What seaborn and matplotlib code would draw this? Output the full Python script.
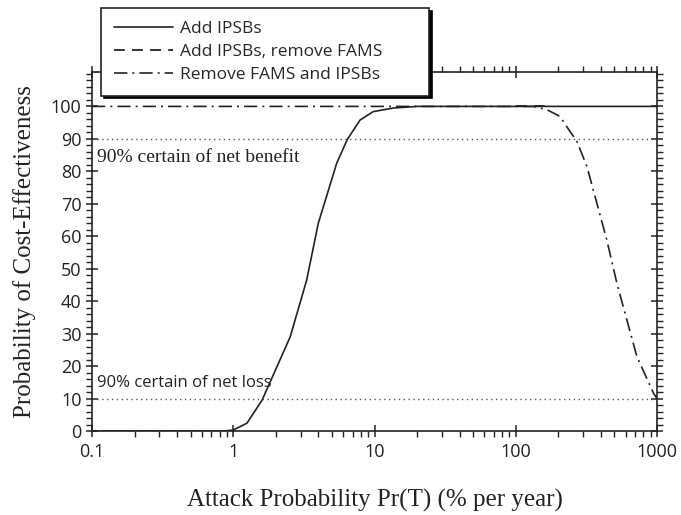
import matplotlib
matplotlib.use("Agg")
import matplotlib.pyplot as plt
import matplotlib.ticker as mticker
import numpy as np
import pandas as pd
import seaborn as sns

# ---- data ----
add_x = [0.1, 0.5, 0.85, 1.0, 1.25, 1.6, 2.53, 3.31, 4.0, 5.4, 6.4, 7.9, 9.8, 13.6, 20, 100, 1000]
add_y = [0, 0, 0, 0.3, 2.4, 9.5, 29, 46.5, 64, 82.5, 89.7, 95.8, 98.4, 99.5, 100, 100, 100]

addrm_x = [100, 170]
addrm_y = [100, 100]

rm_x = [0.1, 100, 133, 166, 206, 236, 271, 319, 375, 441, 520, 612, 721, 946, 1000]
rm_y = [100, 100, 100, 99, 96.9, 93, 89.2, 81.5, 70.2, 58.9, 45.5, 34.2, 22.9, 11.6, 10]

labels = ["Add IPSBs", "Add IPSBs, remove FAMS", "Remove FAMS and IPSBs"]
benefit_level = 90
loss_level = 10
ytick_vals = list(range(0, 101, 10))
xtick_vals = [0.1, 1, 10, 100, 1000]
xtick_labels = ["0.1", "1", "10", "100", "1000"]

sns.set_theme(style="white")
plt.rcParams["font.family"] = ["Open Sans", "DejaVu Sans"]

W, H = 681, 515
fig = plt.figure(figsize=(W / 100, H / 100), dpi=100)
ax = fig.add_axes([92 / W, (H - 431) / H, (657 - 92) / W, (431 - 72) / H])

ink = "#222222"
sns.lineplot(x=addrm_x, y=addrm_y, ax=ax, color=ink, lw=1.3, sort=False,
             estimator=None, label=labels[1])
sns.lineplot(x=add_x, y=add_y, ax=ax, color=ink, lw=1.2, sort=False,
             estimator=None, label=labels[0])
sns.lineplot(x=rm_x, y=rm_y, ax=ax, color=ink, lw=1.2, sort=False,
             estimator=None, label=labels[2])
lines = ax.get_lines()
lines[0].set_dashes((6, 4))
lines[2].set_dashes((8, 3, 1.2, 3))

ax.axhline(benefit_level, color="#555555", lw=1.0, ls=(0, (1, 2.5)))
ax.axhline(loss_level, color="#555555", lw=1.0, ls=(0, (1, 2.5)))

ax.set_xscale("log")
ax.set_xlim(0.1, 1000)
ax.set_ylim(0, 110.6)
ax.set_xticks(xtick_vals)
ax.set_xticklabels(xtick_labels)
ax.xaxis.set_minor_locator(mticker.LogLocator(base=10, subs=np.arange(2, 10)))
ax.xaxis.set_minor_formatter(mticker.NullFormatter())
ax.set_yticks(ytick_vals)
ax.yaxis.set_minor_locator(mticker.MultipleLocator(2))

for s in ax.spines.values():
    s.set_color(ink)
    s.set_linewidth(1.2)

ax.tick_params(which="major", direction="inout", length=9, width=1.1, color=ink,
               labelsize=13, labelcolor="#222222",
               top=True, right=True, bottom=True, left=True)
ax.tick_params(which="minor", direction="out", length=4, width=1.0, color=ink,
               top=True, right=True, bottom=True, left=True)
ax.tick_params(axis="x", which="major", pad=4)
ax.tick_params(axis="y", which="major", pad=3)

ax.text(0.108, 84.4, "90% certain of net benefit", family=["Liberation Serif"],
        fontsize=14, color=ink, va="center", ha="left")
ax.text(0.108, 14.8, "90% certain of net loss", family=["Open Sans"],
        fontsize=12, color=ink, va="center", ha="left")

ax.set_xlabel("Attack Probability Pr(T) (% per year)", family=["Liberation Serif"],
              fontsize=18, color=ink, labelpad=20)
ax.set_ylabel("Probability of Cost-Effectiveness", family=["Liberation Serif"],
              fontsize=18, color=ink, labelpad=11)

h, lab = ax.get_legend_handles_labels()
order = [lab.index(t) for t in labels]
if ax.get_legend() is not None:
    ax.get_legend().remove()
leg = fig.legend([h[i] for i in order], [lab[i] for i in order],
                 loc="upper left",
                 bbox_to_anchor=(101 / W, 1 - 93 / H, (429 - 101) / W, (93 - 8) / H),
                 mode="expand", frameon=True, fancybox=False, framealpha=1,
                 edgecolor=ink, shadow={"color": "black", "alpha": 1},
                 fontsize=12.5, handlelength=3.4, handletextpad=0.4,
                 labelspacing=0.38, borderpad=0.75, borderaxespad=0)
leg.get_frame().set_linewidth(1.2)
leg.set_zorder(10)

fig.savefig("out.png", dpi=100)
